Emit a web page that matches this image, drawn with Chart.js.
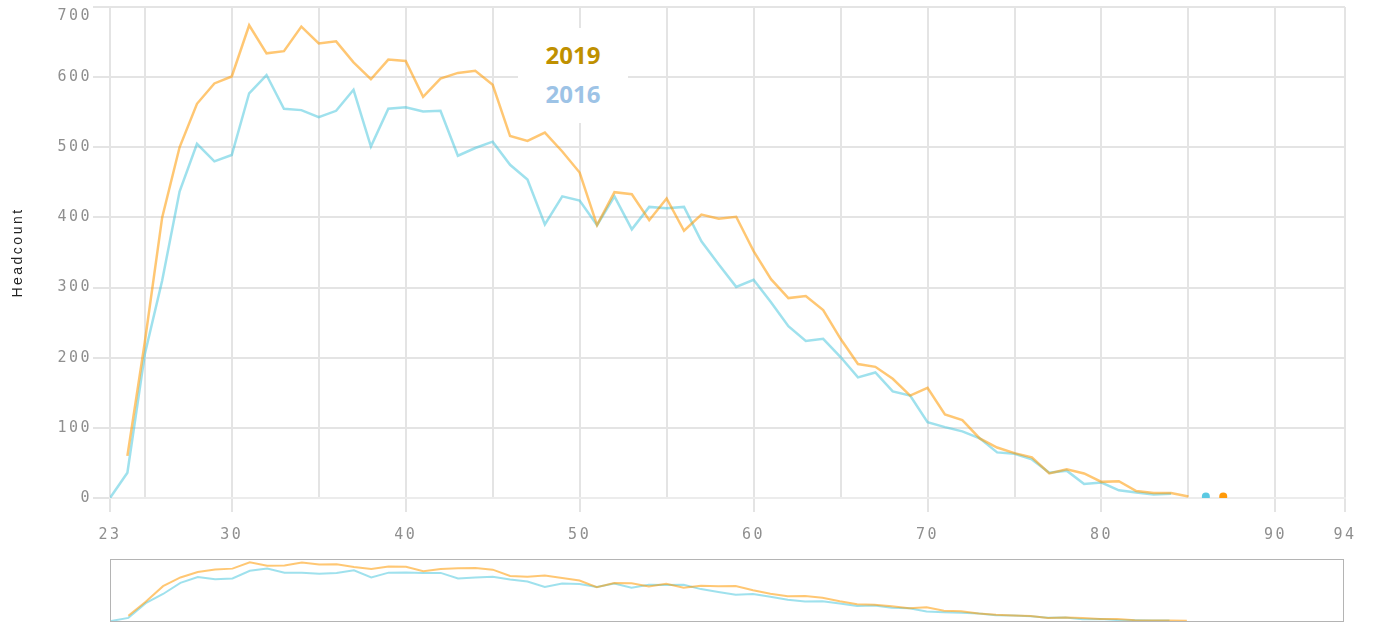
<!DOCTYPE html>
<html>
<head>
<meta charset="utf-8">
<script src="https://cdn.jsdelivr.net/npm/chart.js@4"></script>
<style>
  body { margin: 0; background: #fff; }
  #wrap { position: relative; width: 1376px; height: 623px; }
  #main { position: absolute; left: 0; top: 0; width: 1376px; height: 550px; }
  #nav { position: absolute; left: 110px; top: 559px; width: 1234px; height: 63px;
         border: 1px solid #b4b4b4; box-sizing: border-box; }
  #legend { position: absolute; left: 518px; top: 28px; width: 110px; height: 95px;
            background: #fff; text-align: center; padding-top: 7px; box-sizing: border-box;
            font: bold 24px 'Open Sans', sans-serif; line-height: 39px; }
</style>
</head>
<body>
<div id="wrap">
  <div id="main"><canvas id="headcountChart"></canvas></div>
  <div id="nav"><canvas id="navChart"></canvas></div>
  <div id="legend"></div>
</div>
<script>
// Effectifs par âge, 2019 vs 2016.

const ages = [23, 24, 25, 26, 27, 28, 29, 30, 31, 32, 33, 34, 35, 36, 37, 38, 39, 40,
  41, 42, 43, 44, 45, 46, 47, 48, 49, 50, 51, 52, 53, 54, 55, 56, 57, 58, 59, 60,
  61, 62, 63, 64, 65, 66, 67, 68, 69, 70, 71, 72, 73, 74, 75, 76, 77, 78, 79, 80,
  81, 82, 83, 84, 85, 86, 87];

const headcount2019 = [null, 60, 222, 400, 500, 562, 591, 601, 674, 634, 637, 672, 648, 651, 621, 597, 625, 623,
  572, 598, 606, 609, 589, 516, 509, 521, 494, 464, 389, 436, 433, 396, 427, 381, 404, 398, 401, 352,
  312, 285, 288, 268, 227, 191, 187, 170, 146, 157, 119, 111, 85, 72, 64, 58, 35, 41, 35, 23,
  24, 10, 7, 7, 2, null, 2];

const headcount2016 = [0, 36, 205, 310, 437, 505, 480, 489, 577, 603, 555, 553, 543, 552, 582, 501, 555, 557,
  551, 552, 488, 499, 508, 475, 454, 390, 430, 424, 389, 430, 383, 415, 413, 415, 366, 333, 301, 311,
  279, 245, 224, 227, 201, 172, 179, 152, 146, 108, 101, 95, 85, 65, 63, 55, 36, 39, 20, 22,
  11, 8, 5, 6, null, 2, null];

const xTicks = [23, 25, 30, 35, 40, 45, 50, 55, 60, 65, 70, 75, 80, 85, 90, 94];
const yMin = 0;
const yMax = 700;
const yStep = 100;

const series = [
  { label: '2019', values: headcount2019, line: 'rgba(255,153,0,0.55)', dot: '#ff9a0a', text: '#BF9000' },
  { label: '2016', values: headcount2016, line: 'rgba(64,196,220,0.5)', dot: '#5cc9e2', text: '#9DC3E6' },
];

const grille = '#e4e4e4';
const policeAxe = { family: "'DejaVu Sans Mono', monospace", size: 15 };
const avecEtiquette = (v) => v === 23 || v === 94 || v % 10 === 0;

const points = (values) => ages.map((a, i) => ({ x: a, y: values[i] }));

// point isolé (sans voisins) -> on l'affiche comme un rond
const rayonIsole = (ctx) => {
  const d = ctx.dataset.data;
  const i = ctx.dataIndex;
  if (!d[i] || d[i].y === null) return 0;
  const avant = i > 0 ? d[i - 1].y : null;
  const apres = i < d.length - 1 ? d[i + 1].y : null;
  return (avant === null && apres === null) ? 4 : 0;
};

// texte des axes un peu plus espacé (police large sur l'original)
const espacement = {
  id: 'espacement',
  beforeDraw: (chart) => { chart.ctx.letterSpacing = '2.5px'; },
};

// --- Graphique principal ---
new Chart(document.getElementById('headcountChart'), {
  type: 'line',
  data: {
    datasets: series.map((s) => ({
      label: s.label,
      data: points(s.values),
      borderColor: s.line,
      backgroundColor: s.dot,
      pointBackgroundColor: s.dot,
      borderWidth: 2.5,
      tension: 0,
      pointRadius: rayonIsole,
      pointBorderWidth: 0,
      spanGaps: false,
      fill: false,
    })),
  },
  plugins: [espacement],
  options: {
    responsive: true,
    maintainAspectRatio: false,
    animation: false,
    layout: { padding: { top: 7, right: 31, left: 0, bottom: 0 } },
    plugins: { legend: { display: false }, tooltip: { enabled: false } },
    scales: {
      x: {
        type: 'linear',
        min: 23,
        max: 94,
        afterBuildTicks: (scale) => { scale.ticks = xTicks.map((v) => ({ value: v })); },
        afterFit: (scale) => { scale.height = 52; },
        grid: {
          color: grille,
          lineWidth: 2,
          tickLength: 14,
          tickColor: (ctx) => (ctx.tick && avecEtiquette(ctx.tick.value) ? grille : 'rgba(0,0,0,0)'),
        },
        border: { display: true, color: '#ececec', width: 2 },
        ticks: {
          autoSkip: false,
          maxRotation: 0,
          padding: 14,
          color: '#8f8f8f',
          font: policeAxe,
          callback: (v) => (avecEtiquette(v) ? String(v) : ''),
        },
      },
      y: {
        min: yMin,
        max: yMax,
        afterFit: (scale) => { scale.width = 110; scale.paddingTop = 0; scale.paddingBottom = 0; },
        grid: { color: grille, lineWidth: 2, tickLength: 17 },
        border: { display: false },
        ticks: {
          stepSize: yStep,
          padding: 1,
          color: '#8f8f8f',
          font: policeAxe,
          // l'étiquette du haut est posée sous le bord, comme sur l'original
          callback: (v) => (v === yMax ? ['', String(v)] : String(v)),
        },
        title: {
          display: true,
          text: 'Headcount',
          color: '#222',
          font: { family: "'Liberation Sans', Arial, sans-serif", size: 14 },
          padding: { top: 10, bottom: 0 },
        },
      },
    },
  },
});

// --- Navigateur (aperçu en bas) ---
new Chart(document.getElementById('navChart'), {
  type: 'line',
  data: {
    datasets: series.map((s) => ({
      data: points(s.values),
      borderColor: s.line,
      borderWidth: 2,
      pointRadius: 0,
      tension: 0,
      fill: false,
    })),
  },
  options: {
    responsive: true,
    maintainAspectRatio: false,
    animation: false,
    layout: { padding: 0 },
    plugins: { legend: { display: false }, tooltip: { enabled: false } },
    scales: {
      x: { type: 'linear', min: 23, max: 94, display: false },
      y: { min: yMin, max: yMax, display: false },
    },
  },
});

// --- Légende ---
document.getElementById('legend').innerHTML = series
  .map((s) => `<div style="color:${s.text}">${s.label}</div>`)
  .join('');
</script>
</body>
</html>
